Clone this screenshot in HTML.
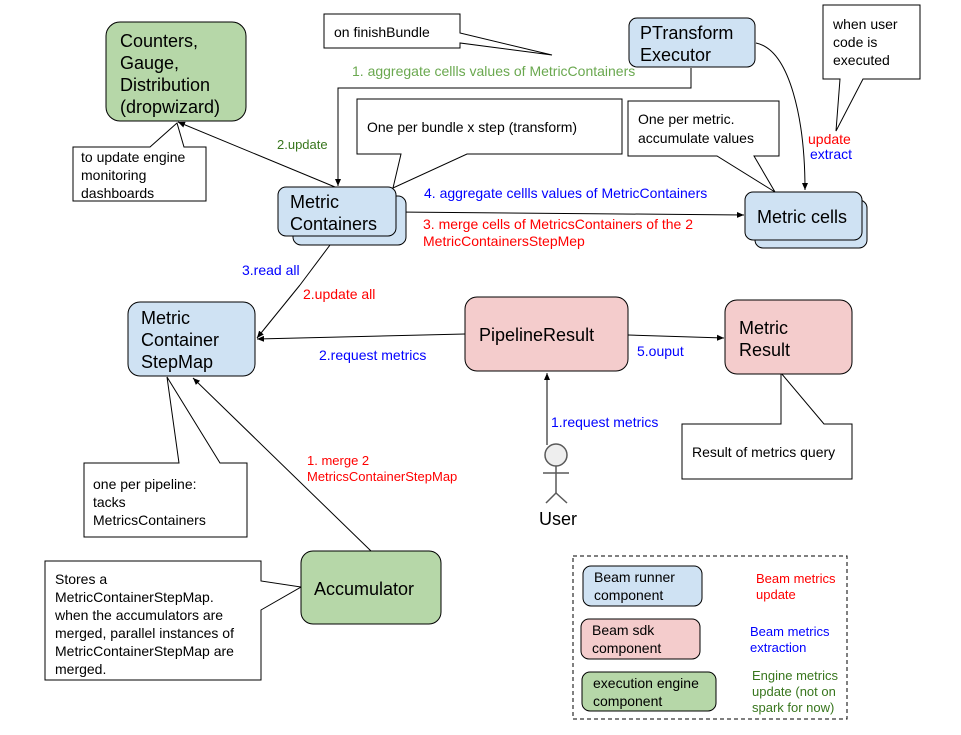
<!DOCTYPE html>
<html><head><meta charset="utf-8"><style>
body{margin:0;background:#fff}
svg text{font-family:"Liberation Sans",Arial,sans-serif}
</style></head><body>
<svg width="961" height="730" viewBox="0 0 961 730" xmlns="http://www.w3.org/2000/svg">
<defs><marker id="a" markerWidth="8" markerHeight="8" refX="7" refY="4" orient="auto" markerUnits="userSpaceOnUse"><path d="M0,1 L7,4 L0,7 z" fill="#000"/></marker></defs>
<g stroke="#000" stroke-width="1" fill="none">
<polyline points="691,68 691,88 338,88 338,186" marker-end="url(#a)"/>
<line x1="335" y1="187" x2="178" y2="122" marker-end="url(#a)"/>
<path d="M756,43 C790,50 805,120 805,190" marker-end="url(#a)"/>
<line x1="396" y1="212" x2="744" y2="215" marker-end="url(#a)"/>
<line x1="300" y1="285" x2="257" y2="338" marker-end="url(#a)"/>
<line x1="300" y1="285" x2="336" y2="237" marker-end="url(#a)"/>
<line x1="465" y1="334" x2="257" y2="339" marker-end="url(#a)"/>
<line x1="628" y1="335" x2="724" y2="338" marker-end="url(#a)"/>
<line x1="547" y1="445" x2="547" y2="373" marker-end="url(#a)"/>
<line x1="371" y1="551" x2="193" y2="378" marker-end="url(#a)"/>
</g>
<g stroke="#000" stroke-width="1">
<path d="M324,14 H460 V33 L552,55 L460,43 V48 H324 Z" fill="#fff"/>
<path d="M73,147 H150 L177,123 L184,147 H206 V201 H73 Z" fill="#fff"/>
<path d="M357,99 H622 V154 H467 L393,188 L401,154 H357 Z" fill="#fff"/>
<path d="M628,101 H779 V156 H754 L775,192 L717,156 H628 Z" fill="#fff"/>
<path d="M823,5 H920 V79 H863 L836,131 L840,79 H823 Z" fill="#fff"/>
<path d="M682,424 H781 V373 L824,424 H852 V479 H682 Z" fill="#fff"/>
<path d="M84,463 H179 L167,377 L220,463 H247 V537 H84 Z" fill="#fff"/>
<path d="M45,561 H261 V581 L301,587 L261,610 V680 H45 Z" fill="#fff"/>
<rect x="106" y="22" width="140" height="99" rx="14" fill="#b6d7a8"/>
<rect x="293" y="196" width="113" height="49" rx="8" fill="#cfe2f3"/>
<rect x="278" y="187" width="118" height="49" rx="8" fill="#cfe2f3"/>
<rect x="629" y="18" width="126" height="49" rx="8" fill="#cfe2f3"/>
<rect x="755" y="200" width="112" height="48" rx="8" fill="#cfe2f3"/>
<rect x="745" y="192" width="117" height="48" rx="8" fill="#cfe2f3"/>
<rect x="128" y="302" width="127" height="74" rx="12" fill="#cfe2f3"/>
<rect x="465" y="297" width="163" height="74" rx="12" fill="#f4cccc"/>
<rect x="725" y="300" width="127" height="74" rx="12" fill="#f4cccc"/>
<rect x="301" y="551" width="140" height="73" rx="12" fill="#b6d7a8"/>
<rect x="583" y="566" width="119" height="40" rx="8" fill="#cfe2f3"/>
<rect x="581" y="619" width="119" height="40" rx="8" fill="#f4cccc"/>
<rect x="582" y="672" width="134" height="39" rx="8" fill="#b6d7a8"/>
</g>
<rect x="573" y="556" width="274" height="163" fill="none" stroke="#000" stroke-dasharray="4,3"/>
<g stroke="#595959" stroke-width="1.5" fill="none">
<circle cx="556" cy="455" r="11" fill="#eee"/>
<line x1="556" y1="466" x2="556" y2="493"/>
<line x1="543" y1="473" x2="569" y2="473"/>
<polyline points="546,503 556,493 567,503"/>
</g>
<g font-size="18" fill="#000">
<text x="120" y="47">Counters,</text><text x="120" y="69">Gauge,</text><text x="120" y="91">Distribution</text><text x="120" y="113">(dropwizard)</text>
<text x="290" y="208">Metric</text><text x="290" y="230">Containers</text>
<text x="640" y="39">PTransform</text><text x="640" y="61">Executor</text>
<text x="757" y="223">Metric cells</text>
<text x="141" y="324">Metric</text><text x="141" y="346">Container</text><text x="141" y="368">StepMap</text>
<text x="479" y="341">PipelineResult</text>
<text x="739" y="334">Metric</text><text x="739" y="356">Result</text>
<text x="314" y="595">Accumulator</text>
<text x="539" y="525">User</text>
</g>
<g font-size="14" fill="#000">
<text x="334" y="37">on finishBundle</text>
<text x="81" y="162">to update engine</text><text x="81" y="180">monitoring</text><text x="81" y="198">dashboards</text>
<text x="367" y="132">One per bundle x step (transform)</text>
<text x="638" y="124">One per metric.</text><text x="638" y="143">accumulate values</text>
<text x="833" y="29">when user</text><text x="833" y="47">code is</text><text x="833" y="65">executed</text>
<text x="692" y="457">Result of metrics query</text>
<text x="93" y="489">one per pipeline:</text><text x="93" y="507">tacks</text><text x="93" y="525">MetricsContainers</text>
<text x="55" y="584">Stores a</text><text x="55" y="602">MetricContainerStepMap.</text><text x="55" y="620">when the accumulators are</text><text x="55" y="638">merged, parallel instances of</text><text x="55" y="656">MetricContainerStepMap are</text><text x="55" y="674">merged.</text>
<text x="594" y="582">Beam runner</text><text x="594" y="600">component</text>
<text x="592" y="635">Beam sdk</text><text x="592" y="653">component</text>
<text x="593" y="688">execution engine</text><text x="593" y="706">component</text>
</g>
<g font-size="14">
<text x="352" y="76" fill="#6aa84f">1. aggregate cellls values of MetricContainers</text>
<text x="277" y="149" fill="#38761d" font-size="13">2.update</text>
<text x="808" y="144" fill="#f00">update</text>
<text x="810" y="159" fill="#00f">extract</text>
<text x="424" y="198" fill="#00f">4. aggregate cellls values of MetricContainers</text>
<text x="423" y="229" fill="#f00">3. merge cells of MetricsContainers of the 2</text>
<text x="423" y="246" fill="#f00">MetricContainersStepMep</text>
<text x="242" y="275" fill="#00f">3.read all</text>
<text x="303" y="299" fill="#f00">2.update all</text>
<text x="319" y="360" fill="#00f">2.request metrics</text>
<text x="637" y="356" fill="#00f">5.ouput</text>
<text x="551" y="427" fill="#00f">1.request metrics</text>
<text x="307" y="465" fill="#f00" font-size="13">1. merge 2</text>
<text x="307" y="481" fill="#f00" font-size="13">MetricsContainerStepMap</text>
<g font-size="13">
<text x="756" y="583" fill="#f00">Beam metrics</text><text x="756" y="599" fill="#f00">update</text>
<text x="750" y="636" fill="#00f">Beam metrics</text><text x="750" y="652" fill="#00f">extraction</text>
<text x="752" y="680" fill="#38761d">Engine metrics</text><text x="752" y="696" fill="#38761d">update (not on</text><text x="752" y="712" fill="#38761d">spark for now)</text>
</g>
</g>
</svg>
</body></html>
